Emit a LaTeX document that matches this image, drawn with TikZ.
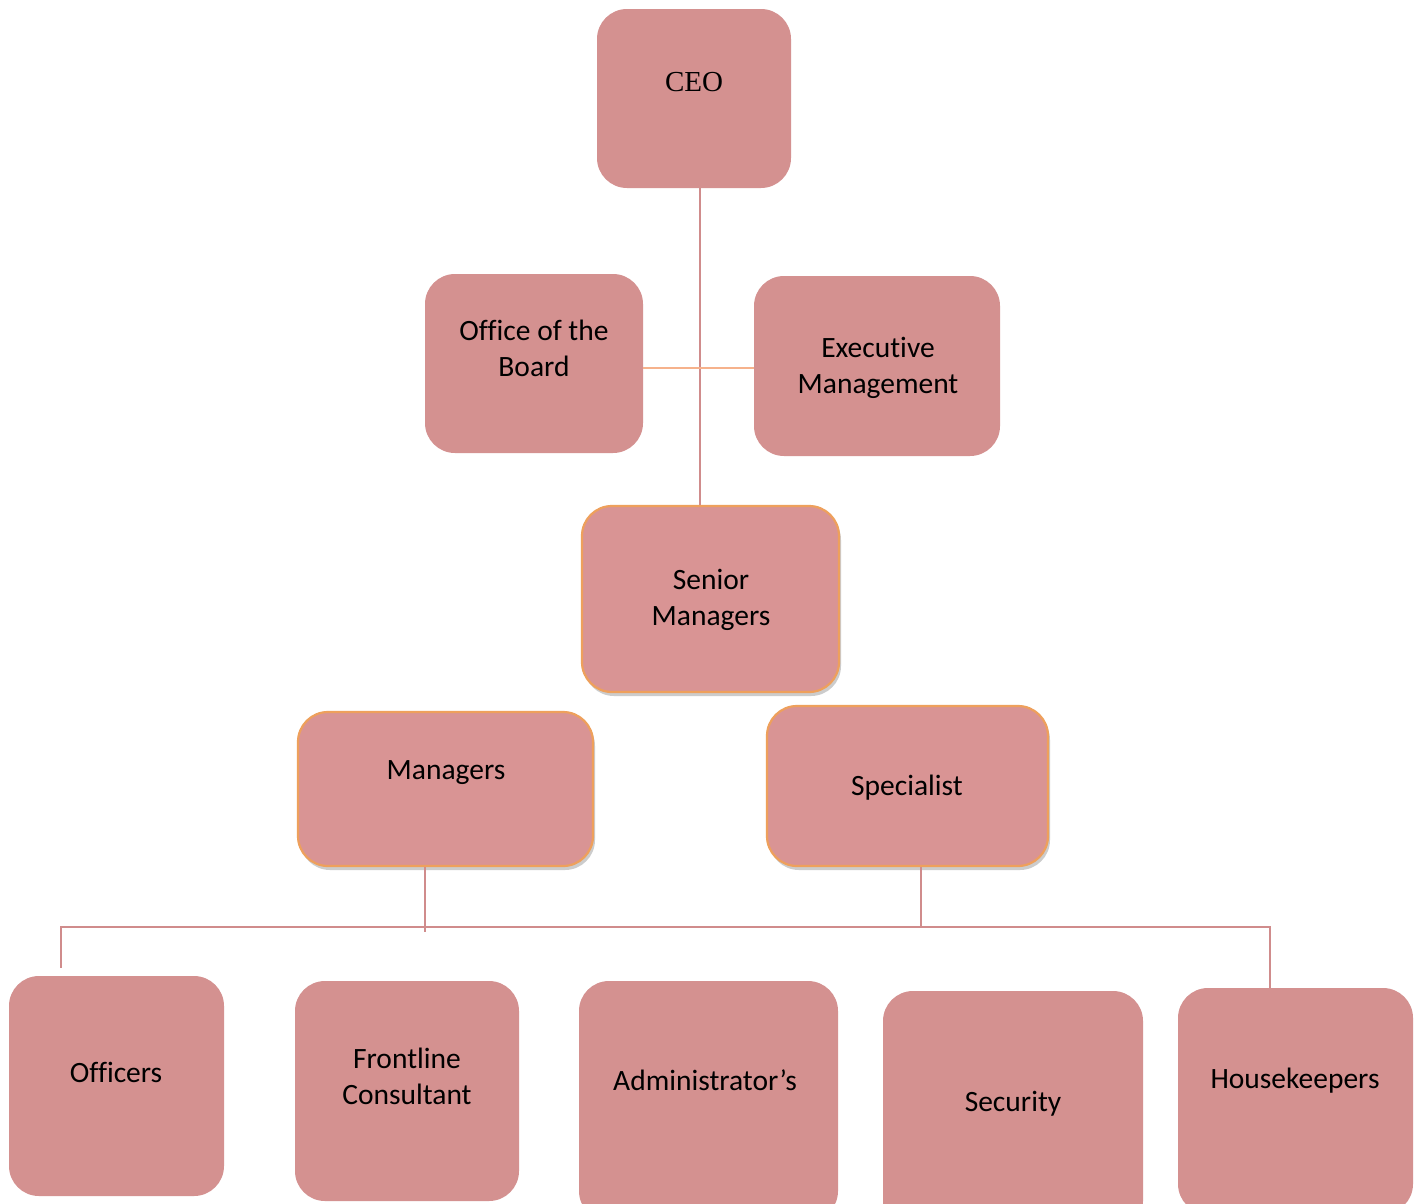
\documentclass[tikz,border=0pt]{standalone}
\usepackage{fontspec}
\setmainfont{Carlito}[Ligatures={NoCommon}]
\newfontfamily\ceofont{Liberation Serif}
\usetikzlibrary{shadows}
\definecolor{boxfill}{RGB}{212,145,144}
\definecolor{boxfillb}{RGB}{217,148,148}
\definecolor{orangeedge}{RGB}{238,160,92}
\definecolor{linecol}{RGB}{208,140,140}
\definecolor{orangeline}{RGB}{246,178,140}
\tikzset{
  box/.style={fill=boxfill, draw=none, rounded corners=30pt, inner sep=0pt, anchor=center},
  shbox/.style={fill=boxfillb, draw=orangeedge, line width=2.2pt, rounded corners=30pt, inner sep=0pt,
     drop shadow={opacity=0.4, shadow xshift=2pt, shadow yshift=-4pt}},
  lbl/.style={font=\fontsize{29.5}{36}\selectfont, align=center, inner sep=0pt, text=black},
  conn/.style={draw=linecol, line width=2pt},
}
\begin{document}
\begin{tikzpicture}[x=1pt,y=-1pt]
\useasboundingbox[fill=white] (0,0) rectangle (1418,1203);
% boxes
\node[box, minimum width=194pt, minimum height=179pt] (ceo) at (694,98.5) {};
\node[box, minimum width=218pt, minimum height=179pt] (office) at (534,363.5) {};
\node[box, minimum width=246pt, minimum height=180pt] (exec) at (877,366) {};
\node[shbox, minimum width=257pt, minimum height=186pt] (senior) at (710.5,599) {};
\node[shbox, minimum width=295pt, minimum height=154pt] (managers) at (445.5,789) {};
\node[shbox, minimum width=281pt, minimum height=160pt] (spec) at (907.5,786) {};
\node[box, minimum width=215pt, minimum height=220pt] (officers) at (116.5,1086) {};
\node[box, minimum width=224pt, minimum height=220pt] (front) at (407,1091) {};
\node[box, minimum width=259pt, minimum height=240pt] (admin) at (708.5,1101) {};
\node[box, minimum width=260pt, minimum height=240pt] (security) at (1013,1111) {};
\node[box, minimum width=235pt, minimum height=226pt] (house) at (1295.5,1101) {};
% labels
\node[lbl, font=\ceofont\fontsize{29}{34}\selectfont] (tceo) at (694,82) {CEO};
\node[lbl] (toffice) at (534,348) {Office of the\\Board};
\node[lbl] (texec) at (878,368) {Executive\\Management};
\node[lbl] (tsenior) at (711,600) {Senior\\Managers};
\node[lbl] (tmanagers) at (446,773) {Managers};
\node[lbl] (tspec) at (907,788) {Specialist};
\node[lbl] (tofficers) at (116,1072) {Officers};
\node[lbl] (tfront) at (407,1076) {Frontline\\Consultant};
\node[lbl] (tadmin) at (705,1080) {Administrator’s};
\node[lbl] (tsecurity) at (1013,1104) {Security};
\node[lbl] (thouse) at (1295,1081) {Housekeepers};
% connectors
\coordinate (hbar) at (0,368);
\coordinate (bus) at (0,927);
\draw[conn] ([xshift=6pt]ceo.south) -- ([xshift=-10.5pt]senior.north);
\draw[draw=orangeline, line width=2.5pt] (office.east |- hbar) -- (exec.west |- hbar);
\draw[conn] ([xshift=-20.5pt]managers.south) -- ([xshift=-20.5pt,yshift=-5pt]managers.south |- bus);
\draw[conn] ([xshift=13.5pt]spec.south) -- ([xshift=13.5pt]spec.south |- bus);
\draw[conn] ([xshift=-55.5pt,yshift=8pt]officers.north) -- ([xshift=-55.5pt]officers.north |- bus)
  -- ([xshift=-25.5pt]house.north |- bus) -- ([xshift=-25.5pt]house.north);
\end{tikzpicture}
\end{document}
